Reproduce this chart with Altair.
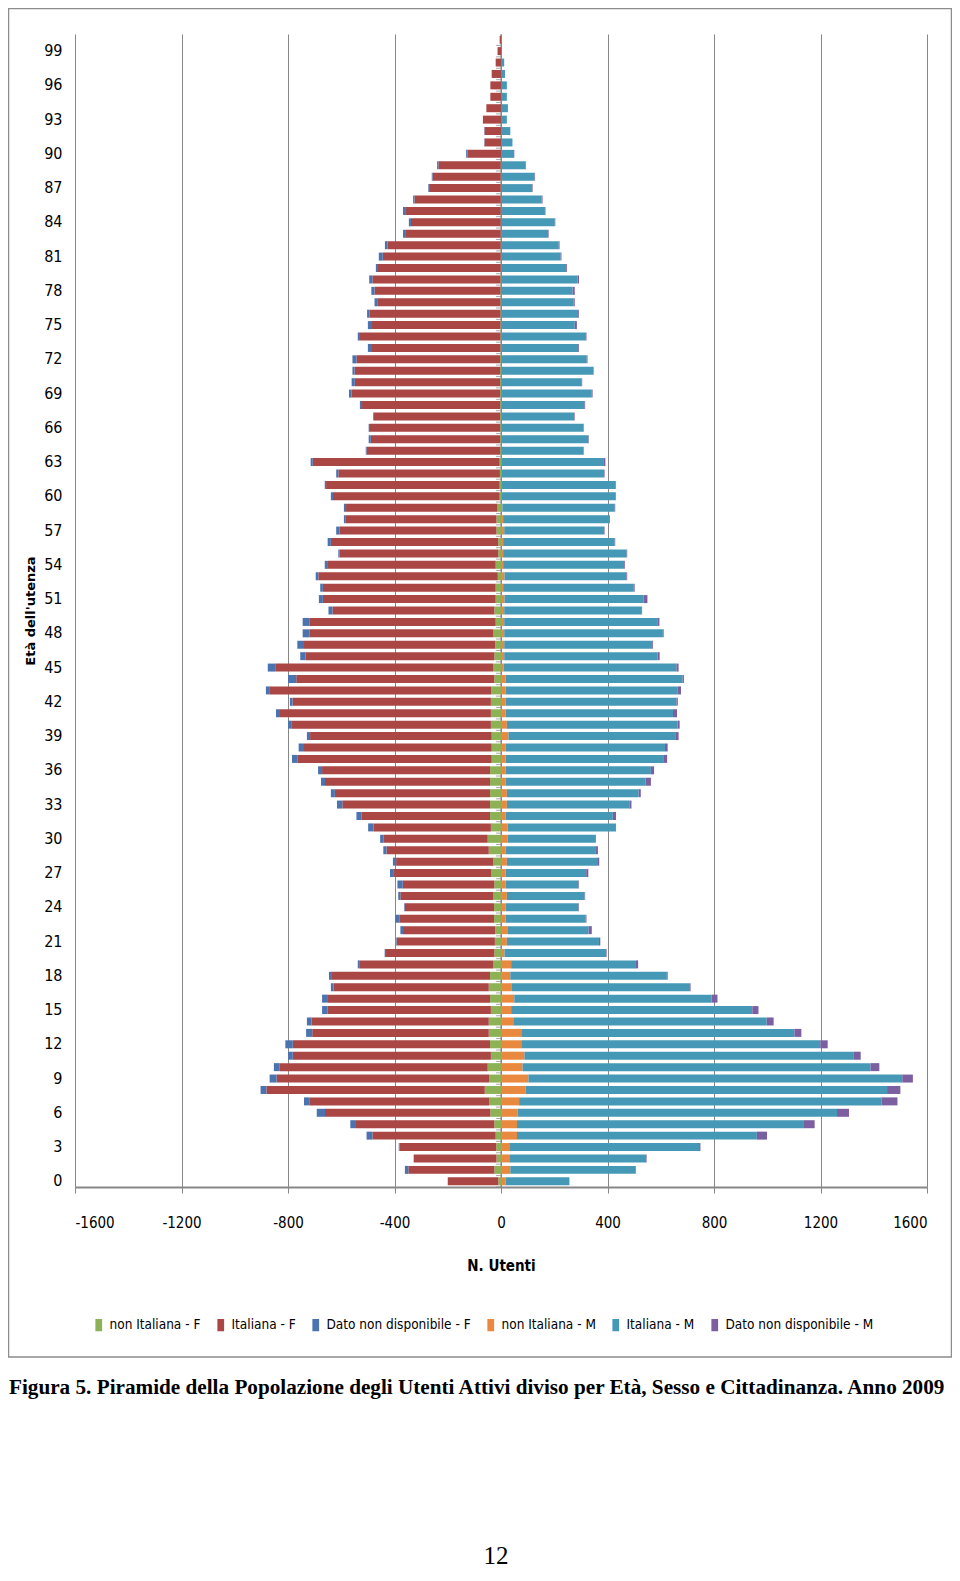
import altair as alt
import pandas as pd

ages = list(range(0, 101))

f_non = [10,25,17,18,20,25,40,45,61,45, 50,38,41,46,46,38,41,46,41,30,
         25,23,22,26,26,30,25,36,30,46, 50,38,41,41,41,41,41,35,35,35,
         38,38,38,36,25,30,25,22,30,20, 25,20,20,12,20,10,10,17,17,13,
         5,5,4,5,3,3,3,3,3,3, 3,3,3,2,2,2,2,2,2,2,
         1,1,1,1,1,1,1,1,1,1, 0,0,0,0,0,0,0,0,0,0, 0]
f_ita = [190,323,311,363,463,523,621,673,820,798, 781,744,741,663,666,614,609,583,597,500,
         407,369,346,356,336,348,344,369,364,384, 392,441,482,555,583,620,631,730,705,682,
         750,792,745,832,744,818,709,718,690,700, 608,649,649,674,630,596,629,590,568,569,
         626,652,607,702,502,486,489,474,519,558, 546,547,540,486,531,486,491,463,473,481,
         461,443,425,359,337,359,324,269,256,234, 126,62,62,68,55,40,40,35,20,13, 5]
f_dato = [0,13,0,3,22,18,31,22,22,26, 22,18,28,23,17,20,22,10,8,8,
          5,2,10,15,2,8,20,12,12,12, 12,20,20,20,15,15,15,20,20,12,
          12,15,10,15,31,28,20,25,25,25, 15,15,10,10,12,5,12,12,5,8,
          8,5,8,8,3,8,5,3,8,10, 12,8,15,12,5,12,10,10,12,12,
          8,15,10,8,8,8,5,3,3,5, 5,1,1,0,0,0,0,0,0,0, 0]
m_non = [17,35,31,31,60,60,63,68,93,103, 81,88,76,76,46,38,50,41,35,38,
         13,22,26,17,17,22,17,17,22,17, 25,25,17,22,22,17,17,17,17,28,
         22,17,17,17,17,10,12,12,12,12, 12,13,8,13,8,8,8,12,8,5,
         3,3,3,3,2,2,2,2,2,2, 2,2,2,2,1,1,1,1,1,1,
         1,1,1,1,0,0,0,0,0,0, 0,0,0,0,0,0,0,0,0,0, 0]
m_ita = [240,470,514,713,901,1075,1199,1361,1357,1404, 1307,1235,1123,1026,952,906,741,669,588,469,
         382,346,303,301,274,292,274,303,339,337, 328,404,403,460,495,526,546,595,599,629,
         641,629,642,647,665,649,576,556,596,575, 515,522,491,458,454,464,419,375,398,422,
         427,427,384,381,307,326,307,273,311,339, 301,344,320,288,318,276,289,271,268,287,
         244,223,216,176,202,165,153,117,126,92, 49,43,35,22,26,22,22,15,12,3, 1]
m_dato = [0,2,2,5,38,43,45,60,50,40, 33,28,28,26,26,23,22,2,3,8,
          2,5,12,3,2,2,2,8,8,10, 3,3,12,8,8,20,12,12,10,10,
          8,15,5,12,5,8,8,3,3,8, 3,15,3,3,3,2,2,2,3,2,
          2,2,2,8,2,2,2,2,3,3, 2,2,3,3,2,8,3,5,8,5,
          3,3,3,2,2,2,3,2,2,2, 1,0,0,0,0,0,0,0,0,0, 0]

series_names = ["non Italiana - F", "Italiana - F", "Dato non disponibile - F",
                "non Italiana - M", "Italiana - M", "Dato non disponibile - M"]
series_colors = ["#8DB255", "#AA4644", "#4A73B0", "#E8893F", "#4699B6", "#7B5FA0"]
x_ticks = [-1600, -1200, -800, -400, 0, 400, 800, 1200, 1600]
y_ticks = list(range(0, 100, 3))
caption = "Figura 5. Piramide della Popolazione degli Utenti Attivi diviso per Età, Sesso e Cittadinanza. Anno 2009"
page_number = "12"

rows = []
for sign, name_vals in [(-1, [f_non, f_ita, f_dato]), (1, [m_non, m_ita, m_dato])]:
    for k, vals in enumerate(name_vals):
        idx = (0 if sign < 0 else 3) + k
        for a, v in zip(ages, vals):
            rows.append({"age": a, "serie": series_names[idx], "ord": idx, "value": sign * v})
df = pd.DataFrame(rows)

NARROW = "Liberation Sans Narrow, DejaVu Sans Condensed, Arial Narrow, sans-serif"
W, H = 852, 1153
GRID = "#878787"

xscale = alt.Scale(domain=[-1600, 1600], nice=False, zero=False)
yscale = alt.Scale(paddingInner=0.3, paddingOuter=0.15)
xaxis = alt.Axis(values=x_ticks, grid=True, gridColor=GRID, gridWidth=1,
                 domainColor=GRID, domainWidth=2, tickColor=GRID, tickSize=6,
                 labelExpr="'' + datum.value", labelFont=NARROW, labelFontSize=15,
                 labelColor="black", labelBaseline="middle", labelPadding=29,
                 title="N. Utenti", titleFont=NARROW, titleFontSize=15, titleFontWeight="bold",
                 titleColor="black", titleY=78, titleBaseline="middle")
yaxis = alt.Axis(values=y_ticks, domain=False, ticks=False, tickSize=0, grid=False,
                 labelFont=NARROW, labelFontSize=16, labelColor="black", labelPadding=13,
                 title="Età dell'utenza", titleFont="DejaVu Sans", titleFontSize=13,
                 titleFontWeight="bold", titleColor="black", titleAngle=270,
                 titleX=-45, titleY=H / 2, titleAlign="center", titleBaseline="middle")

frame = alt.Chart(pd.DataFrame({"f": [0]})).mark_rect(
    fillOpacity=0, stroke="#8C8C8C", strokeWidth=1.5
).encode(x=alt.value(-66.5), x2=alt.value(876.5), y=alt.value(-25.5), y2=alt.value(1323))

zero_rule = alt.Chart(pd.DataFrame({"f": [0]})).mark_rule(color=GRID, strokeWidth=1).encode(
    x=alt.datum(0, scale=xscale, axis=xaxis)
)

zero_ticks = alt.Chart(pd.DataFrame({"age": ages})).mark_tick(
    orient="horizontal", color=GRID, size=5, thickness=1, xOffset=-2.5, yOffset=5.7
).encode(
    x=alt.datum(0, scale=xscale, axis=xaxis),
    y=alt.Y("age:O", sort="descending", scale=yscale, axis=yaxis),
)

bars = alt.Chart(df).mark_bar().encode(
    x=alt.X("value:Q", stack="zero", scale=xscale, axis=xaxis),
    y=alt.Y("age:O", sort="descending", scale=yscale, axis=yaxis),
    color=alt.Color("serie:N", scale=alt.Scale(domain=series_names, range=series_colors),
                    legend=alt.Legend(title=None, orient="none", legendX=17, legendY=1284,
                                      direction="horizontal", columns=6,
                                      symbolType="M-0.55,-1H0.55V1H-0.55Z", symbolSize=150,
                                      symbolStrokeWidth=0, labelFont=NARROW, labelFontSize=13.5,
                                      labelColor="black", columnPadding=13, labelOffset=4)),
    order=alt.Order("ord:Q"),
)

cap = alt.Chart(pd.DataFrame({"t": [caption]})).mark_text(
    align="left", baseline="alphabetic", font="Liberation Serif", fontSize=21.2,
    fontWeight="bold", color="black"
).encode(text="t:N", x=alt.value(-66), y=alt.value(1360))

pnum = alt.Chart(pd.DataFrame({"t": [page_number]})).mark_text(
    align="center", baseline="alphabetic", font="Liberation Serif", fontSize=25, color="black"
).encode(text="t:N", x=alt.value(421), y=alt.value(1530))

chart = alt.layer(frame, zero_rule, zero_ticks, bars, cap, pnum).properties(
    width=W, height=H,
    autosize=alt.AutoSizeParams(type="none"),
    padding={"left": 67, "top": 26, "right": 25, "bottom": 385},
).configure_view(strokeWidth=0)

chart.save("out.html", embed_options={"renderer": "svg", "actions": False})
